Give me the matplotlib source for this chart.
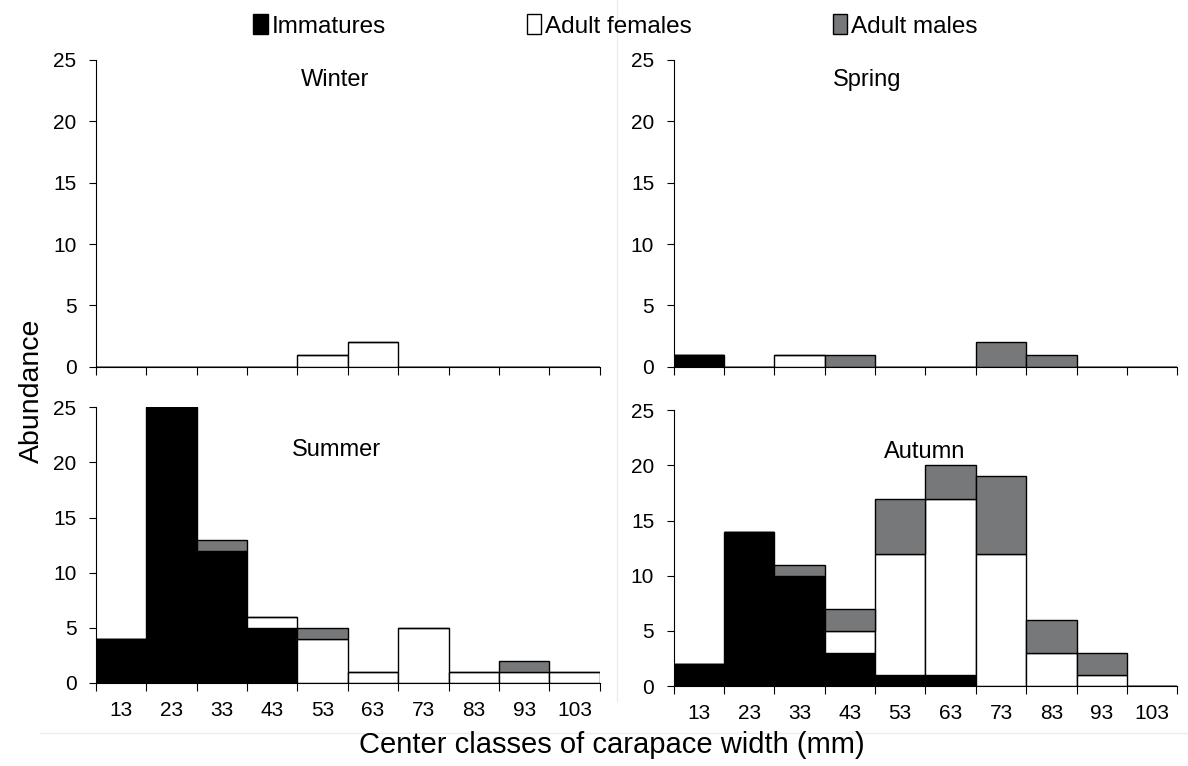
import matplotlib
matplotlib.use("Agg")
import matplotlib.pyplot as plt
from matplotlib.lines import Line2D
from matplotlib.patches import Patch

plt.rcParams['font.family'] = ['Liberation Sans', 'DejaVu Sans']

# class centres of carapace width (mm)
centers = [13, 23, 33, 43, 53, 63, 73, 83, 93, 103]
edges = [8, 18, 28, 38, 48, 58, 68, 78, 88, 98, 108]

# abundance per season, per class
winter_imm = [0, 0, 0, 0, 0, 0, 0, 0, 0, 0]
winter_fem = [0, 0, 0, 0, 1, 2, 0, 0, 0, 0]
winter_male = [0, 0, 0, 0, 0, 0, 0, 0, 0, 0]

spring_imm = [1, 0, 0, 0, 0, 0, 0, 0, 0, 0]
spring_fem = [0, 0, 1, 0, 0, 0, 0, 0, 0, 0]
spring_male = [0, 0, 0, 1, 0, 0, 2, 1, 0, 0]

summer_imm = [4, 25, 12, 5, 0, 0, 0, 0, 0, 0]
summer_fem = [0, 0, 0, 1, 4, 1, 5, 1, 1, 1]
summer_male = [0, 0, 1, 0, 1, 0, 0, 0, 1, 0]

autumn_imm = [2, 14, 10, 3, 1, 1, 0, 0, 0, 0]
autumn_fem = [0, 0, 0, 2, 11, 16, 12, 3, 1, 0]
autumn_male = [0, 0, 1, 2, 5, 3, 7, 3, 2, 0]

yticks = [0, 5, 10, 15, 20, 25]
male_color = "#76787a"

fig = plt.figure(figsize=(11.88, 7.66), dpi=100)

# [left, bottom, width, height], title, title pos, data, show x labels
panels = [
    ([0.0808, 0.521, 0.424, 0.401], "Winter", (0.474, 0.935),
     winter_imm, winter_fem, winter_male, False),
    ([0.567, 0.521, 0.424, 0.401], "Spring", (0.385, 0.935),
     spring_imm, spring_fem, spring_male, False),
    ([0.0808, 0.1084, 0.424, 0.360], "Summer", (0.478, 0.844),
     summer_imm, summer_fem, summer_male, True),
    ([0.567, 0.1044, 0.424, 0.360], "Autumn", (0.498, 0.848),
     autumn_imm, autumn_fem, autumn_male, True),
]

for rect, title, tpos, imm, fem, male, xlab in panels:
    ax = fig.add_axes(rect)
    bot2 = [a + b for a, b in zip(imm, fem)]
    kw = dict(width=10, edgecolor="black", linewidth=1.0, align="center")
    ax.bar(centers, imm, color="black", **kw)
    ax.bar(centers, fem, bottom=imm, color="white", **kw)
    ax.bar(centers, male, bottom=bot2, color=male_color, **kw)

    ax.set_xlim(8, 108)
    ax.set_ylim(0, 25)
    ax.set_yticks(yticks)
    ax.tick_params(axis="y", labelsize=15, length=5, width=0.8, pad=9)
    ax.set_xticks(edges)
    ax.set_xticklabels([])
    ax.tick_params(axis="x", which="major", length=6, width=0.8, direction="out")
    if xlab:
        ax.set_xticks(centers, minor=True)
        ax.set_xticklabels([str(c) for c in centers], minor=True)
        ax.tick_params(axis="x", which="minor", length=0, labelsize=15, pad=13)
    for s in ["top", "right"]:
        ax.spines[s].set_visible(False)
    ax.spines["left"].set_linewidth(0.8)
    ax.spines["bottom"].set_linewidth(0.8)
    ax.text(tpos[0], tpos[1], title, transform=ax.transAxes, fontsize=17,
            ha="center", va="center")

# legend at the top
handles = [Patch(facecolor="black", edgecolor="black", label="Immatures"),
           Patch(facecolor="white", edgecolor="black", label="Adult females"),
           Patch(facecolor=male_color, edgecolor="black", label="Adult males")]
fig.legend(handles=handles, loc="center", bbox_to_anchor=(0.518, 0.966), ncol=3,
           frameon=False, fontsize=17.5, handlelength=0.6, handleheight=0.9,
           handletextpad=0.15, columnspacing=5.8)

fig.text(0.027, 0.49, "Abundance", rotation=90, fontsize=20.5, ha="center", va="center")
fig.text(0.515, 0.027, "Center classes of carapace width (mm)", fontsize=21,
         ha="center", va="center")

# faint separators in the original figure
fig.add_artist(Line2D([0.519, 0.519], [0.085, 1.0], color="#ececec", linewidth=1))
fig.add_artist(Line2D([0.034, 1.0], [0.043, 0.043], color="#ececec", linewidth=1))

fig.savefig("out.png", dpi=100)
